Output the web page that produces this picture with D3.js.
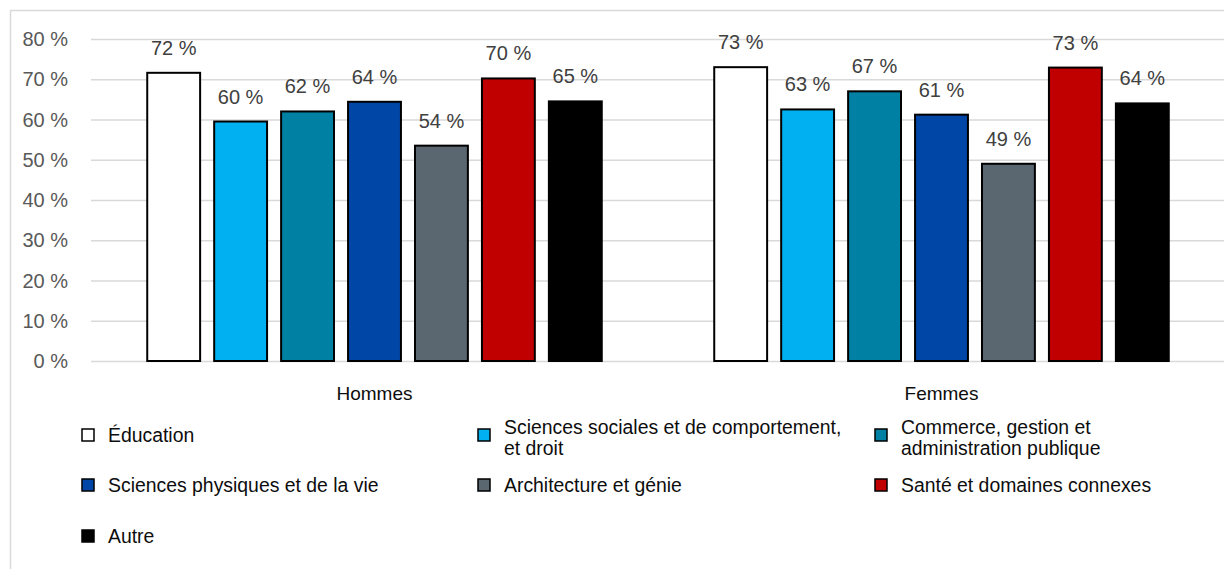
<!DOCTYPE html>
<html>
<head>
    <meta charset="utf-8">
    <script src="https://d3js.org/d3.v7.min.js"></script>
    <style>
      body {
        margin: 0;
        background: white;
      }
      text {
        font-family: "Liberation Sans", Arial, sans-serif;
      }
      .tick-label {
        fill: #595959;
        font-size: 20px;
      }
      .value-label {
        fill: #404040;
        font-size: 20px;
      }
      .cat-label {
        fill: #0d0d0d;
        font-size: 19px;
      }
      .legend-label {
        fill: #0d0d0d;
        font-size: 19.4px;
      }
    </style>
    <title>Chart</title>
</head>
<body>
<div id="chart"></div>

<script type="text/javascript">
    "use strict";

    // groups on the x axis
    var groups = ["Hommes", "Femmes"];

    // fields of study (series)
    var fields = [
        "Éducation",
        "Sciences sociales et de comportement, et droit",
        "Commerce, gestion et administration publique",
        "Sciences physiques et de la vie",
        "Architecture et génie",
        "Santé et domaines connexes",
        "Autre"
    ];

    // legend text split on lines
    var fieldLines = [
        ["Éducation"],
        ["Sciences sociales et de comportement,", "et droit"],
        ["Commerce, gestion et", "administration publique"],
        ["Sciences physiques et de la vie"],
        ["Architecture et génie"],
        ["Santé et domaines connexes"],
        ["Autre"]
    ];

    var fieldColors = ["#ffffff", "#00b0f0", "#0080a3", "#0046a6", "#5a6670", "#c00000", "#000000"];

    // percentages
    var hommesValues = [71.6, 59.5, 62.0, 64.4, 53.5, 70.2, 64.5];
    var femmesValues = [73.0, 62.5, 67.0, 61.2, 49.0, 72.9, 64.0];

    var yTicks = [0, 10, 20, 30, 40, 50, 60, 70, 80];

    var W = 1224, H = 569;
    var plot = { left: 91, right: 1225, top: 39, bottom: 361 };

    var svg = d3.select("#chart").append("svg")
        .attr("width", W)
        .attr("height", H);

    // chart frame
    svg.append("rect")
        .attr("x", 10.5)
        .attr("y", 10.5)
        .attr("width", W)
        .attr("height", H)
        .attr("fill", "none")
        .attr("stroke", "#d9d9d9")
        .attr("stroke-width", 1.5);

    var x0 = d3.scaleBand()
        .domain(groups)
        .range([plot.left, plot.right]);

    var x1 = d3.scaleBand()
        .domain(fields)
        .range([0, x0.bandwidth()])
        .paddingInner(0.21)
        .paddingOuter(0.84);

    var y = d3.scaleLinear()
        .domain([0, 80])
        .range([plot.bottom, plot.top]);

    // gridlines
    svg.append("g")
        .selectAll("line")
        .data(yTicks)
      .enter().append("line")
        .attr("x1", plot.left)
        .attr("x2", plot.right)
        .attr("y1", function (d) { return y(d) + 0.5; })
        .attr("y2", function (d) { return y(d) + 0.5; })
        .attr("stroke", "#d9d9d9")
        .attr("stroke-width", 1.5);

    // y tick labels
    svg.append("g")
        .selectAll("text")
        .data(yTicks)
      .enter().append("text")
        .attr("class", "tick-label")
        .attr("x", 68)
        .attr("y", function (d) { return y(d); })
        .attr("dy", "0.35em")
        .attr("text-anchor", "end")
        .text(function (d) { return d + " %"; });

    var data = groups.map(function (g, gi) {
        var vals = gi === 0 ? hommesValues : femmesValues;
        return {
            group: g,
            bars: fields.map(function (f, i) {
                return { field: f, value: vals[i], color: fieldColors[i] };
            })
        };
    });

    var groupSel = svg.selectAll(".group")
        .data(data)
      .enter().append("g")
        .attr("class", "group")
        .attr("transform", function (d) { return "translate(" + x0(d.group) + ",0)"; });

    groupSel.selectAll("rect")
        .data(function (d) { return d.bars; })
      .enter().append("rect")
        .attr("x", function (d) { return x1(d.field); })
        .attr("y", function (d) { return y(d.value); })
        .attr("width", x1.bandwidth())
        .attr("height", function (d) { return plot.bottom - y(d.value); })
        .attr("fill", function (d) { return d.color; })
        .attr("stroke", "#000")
        .attr("stroke-width", 2);

    groupSel.selectAll(".value-label")
        .data(function (d) { return d.bars; })
      .enter().append("text")
        .attr("class", "value-label")
        .attr("x", function (d) { return x1(d.field) + x1.bandwidth() / 2; })
        .attr("y", function (d) { return y(d.value) - 18; })
        .attr("text-anchor", "middle")
        .text(function (d) { return Math.round(d.value) + " %"; });

    // category labels
    svg.append("g")
        .selectAll("text")
        .data(groups)
      .enter().append("text")
        .attr("class", "cat-label")
        .attr("x", function (d) { return x0(d) + x0.bandwidth() / 2; })
        .attr("y", 400)
        .attr("text-anchor", "middle")
        .text(function (d) { return d; });

    // legend: 3 columns
    var legendCols = [82, 478, 875];
    var legendRows = [435, 485, 536];

    var legend = svg.append("g")
        .selectAll("g")
        .data(fields)
      .enter().append("g")
        .attr("transform", function (d, i) {
            return "translate(" + legendCols[i % 3] + "," + legendRows[Math.floor(i / 3)] + ")";
        });

    legend.append("rect")
        .attr("x", 0)
        .attr("y", -6)
        .attr("width", 12)
        .attr("height", 12)
        .attr("fill", function (d, i) { return fieldColors[i]; })
        .attr("stroke", "#000")
        .attr("stroke-width", 1.5);

    legend.append("text")
        .attr("class", "legend-label")
        .attr("x", 26)
        .attr("y", function (d, i) { return fieldLines[i].length > 1 ? -1 : 7; })
        .each(function (d, i) {
            var t = d3.select(this);
            fieldLines[i].forEach(function (line, li) {
                t.append("tspan")
                    .attr("x", 26)
                    .attr("dy", li === 0 ? 0 : 21)
                    .text(line);
            });
        });
</script>
</body>
</html>
